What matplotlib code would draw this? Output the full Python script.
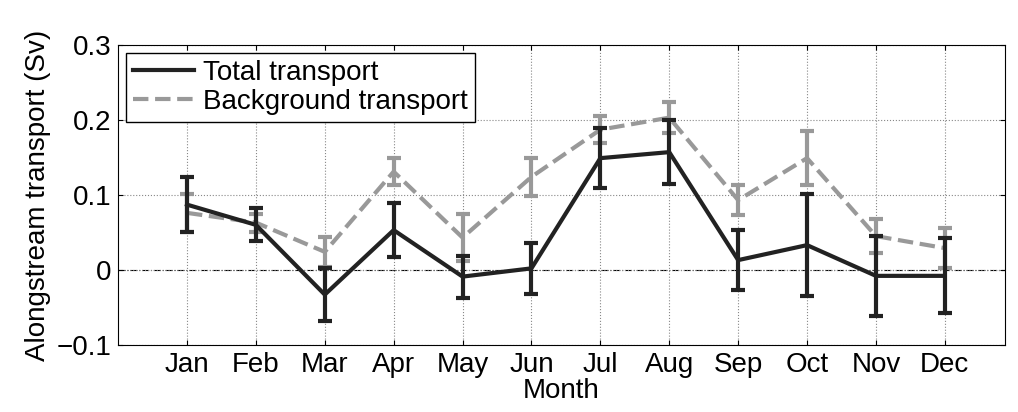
import matplotlib
matplotlib.use('Agg')
import matplotlib.pyplot as plt
from matplotlib.lines import Line2D

months = ['Jan', 'Feb', 'Mar', 'Apr', 'May', 'Jun', 'Jul', 'Aug', 'Sep', 'Oct', 'Nov', 'Dec']
total = [0.087, 0.060, -0.033, 0.053, -0.009, 0.002, 0.149, 0.157, 0.013, 0.033, -0.008, -0.008]
total_err = [0.037, 0.022, 0.035, 0.036, 0.028, 0.034, 0.040, 0.043, 0.040, 0.068, 0.053, 0.050]
background = [0.076, 0.063, 0.024, 0.131, 0.043, 0.124, 0.187, 0.203, 0.093, 0.149, 0.045, 0.029]
background_err = [0.025, 0.012, 0.020, 0.018, 0.031, 0.025, 0.018, 0.021, 0.020, 0.036, 0.023, 0.027]

plt.rcParams['font.family'] = ['Liberation Sans', 'DejaVu Sans']
fig = plt.figure(figsize=(10.18, 4.12), dpi=100)
ax = fig.add_axes([0.116, 0.163, 0.871, 0.728])

x = list(range(1, 13))
ax.axhline(0, color='black', linestyle='-.', linewidth=0.8, zorder=1)
ax.errorbar(x, background, yerr=background_err, color='#999999', linestyle='--',
            linewidth=3, elinewidth=3, capsize=5, capthick=3, zorder=2)
ax.errorbar(x, total, yerr=total_err, color='#222222', linestyle='-',
            linewidth=3, elinewidth=3, capsize=5, capthick=3, zorder=3)

ax.set_xlim(0, 12.87)
ax.set_ylim(-0.1, 0.3)
ax.set_xticks(x)
ax.set_xticklabels(months)
ax.set_yticks([-0.1, 0, 0.1, 0.2, 0.3])
ax.set_yticklabels(['\u22120.1', '0', '0.1', '0.2', '0.3'])
ax.tick_params(labelsize=20, direction='in', top=True, right=True, pad=5)
ax.grid(True, linestyle=':', color='#888888', linewidth=0.8)
ax.set_xlabel('Month', fontsize=20, labelpad=0)
ax.set_ylabel('Alongstream transport (Sv)', fontsize=20, labelpad=4)

handles = [Line2D([], [], color='#222222', linewidth=3),
           Line2D([], [], color='#999999', linewidth=3, linestyle='--')]
leg = ax.legend(handles, ['Total transport', 'Background transport'], loc='upper left',
                fontsize=20, fancybox=False, edgecolor='black', handlelength=2.2,
                handletextpad=0.3, borderaxespad=0.3, labelspacing=0.1, borderpad=0.25)
leg.get_frame().set_alpha(1)

fig.savefig('out.png', dpi=100)
